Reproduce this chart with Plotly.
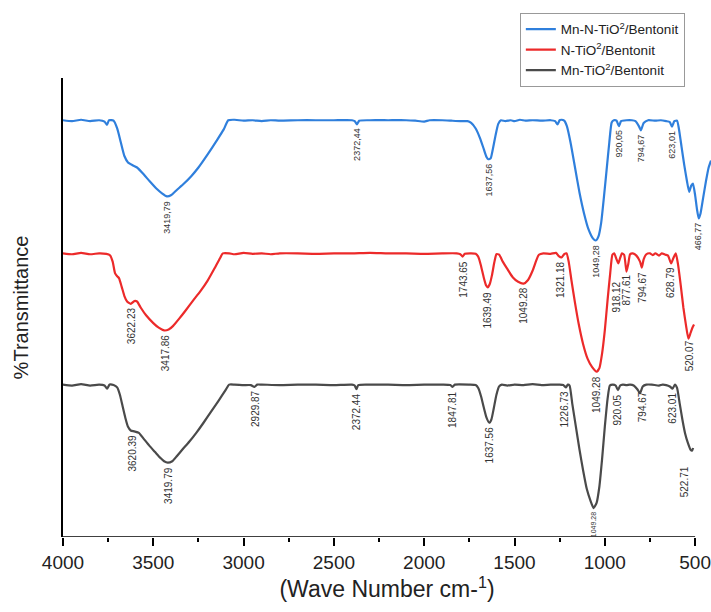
import numpy as np
import plotly.graph_objects as go

# ---------------- data ----------------
series_names = ["Mn-N-TiO<sup>2</sup>/Bentonit", "N-TiO<sup>2</sup>/Bentonit", "Mn-TiO<sup>2</sup>/Bentonit"]

blue_wn = [4000, 3950, 3900, 3850, 3800, 3770, 3757, 3745, 3720, 3700, 3680, 3660, 3640, 3615, 3590, 3560,
           3520, 3480, 3450, 3425, 3400, 3370, 3330, 3290, 3250, 3200, 3150, 3110, 3085, 3050, 3000, 2950,
           2900, 2850, 2800, 2700, 2600, 2500, 2400, 2385, 2372, 2360, 2300, 2200, 2100, 2050, 2000, 1970,
           1900, 1850, 1800, 1760, 1740, 1715, 1690, 1670, 1655, 1645, 1632, 1620, 1605, 1590, 1575, 1550,
           1520, 1500, 1470, 1440, 1400, 1350, 1300, 1275, 1262, 1250, 1240, 1225, 1210, 1190, 1165, 1140,
           1115, 1090, 1065, 1050, 1035, 1020, 1005, 990, 975, 962, 950, 935, 922, 910, 880, 850, 830, 810,
           800, 785, 760, 720, 690, 660, 640, 628, 615, 600, 590, 575, 560, 545, 533, 522, 512, 500, 490,
           480, 470, 455, 440, 425, 412]
blue_t = [90.8, 90.6, 90.9, 90.6, 90.8, 90.5, 89.8, 90.8, 90.7, 89.0, 86.0, 83.0, 81.6, 81.0, 80.5, 79.3,
          77.5, 75.8, 74.8, 74.2, 74.5, 75.6, 77.0, 78.6, 80.5, 83.3, 86.3, 88.8, 90.8, 90.9, 90.7, 90.8,
          90.6, 90.8, 90.7, 90.8, 90.8, 90.8, 90.8, 90.6, 89.9, 90.7, 90.8, 90.8, 90.8, 90.7, 90.5, 90.8,
          90.8, 90.7, 90.6, 90.6, 90.2, 89.0, 86.8, 84.5, 82.8, 82.3, 82.5, 84.5, 87.5, 90.0, 90.8, 90.6,
          90.8, 90.6, 90.9, 90.7, 90.8, 90.7, 90.8, 90.6, 89.9, 90.8, 90.9, 90.7, 89.5, 86.0, 80.5, 75.0,
          70.5, 67.0, 65.0, 64.6, 65.5, 68.5, 74.0, 80.0, 86.0, 90.3, 90.8, 90.7, 89.5, 90.6, 90.8, 90.8, 90.6, 89.4,
          88.6, 90.2, 90.8, 90.7, 90.8, 90.6, 90.4, 89.4, 90.6, 90.7, 89.0, 85.0, 81.0, 77.5, 75.2, 76.5, 77.0, 74.5, 71.5,
          69.4, 70.5, 74.0, 77.5, 80.5, 82.0]

red_wn = [4000, 3950, 3900, 3850, 3800, 3760, 3740, 3725, 3712, 3700, 3690, 3675, 3660, 3645, 3625, 3605,
          3590, 3570, 3540, 3500, 3470, 3440, 3415, 3390, 3360, 3320, 3280, 3240, 3200, 3160, 3130, 3115,
          3080, 3050, 3000, 2950, 2900, 2850, 2800, 2700, 2600, 2500, 2400, 2300, 2200, 2100, 2000, 1900,
          1820, 1800, 1787, 1775, 1740, 1715, 1700, 1685, 1670, 1657, 1648, 1638, 1625, 1612, 1600, 1585,
          1565, 1540, 1510, 1480, 1450, 1425, 1400, 1380, 1365, 1340, 1300, 1270, 1255, 1240, 1225, 1212,
          1200, 1185, 1165, 1145, 1120, 1095, 1070, 1045, 1030, 1015, 1000, 985, 970, 958, 948, 935, 925,
          915, 905, 893, 880, 870, 860, 845, 825, 805, 795, 785, 770, 750, 735, 720, 700, 685, 665, 650,
          633, 620, 607, 595, 580, 565, 550, 537, 525, 515, 506]
red_t = [61.8, 61.6, 61.9, 61.6, 61.8, 61.7, 61.4, 60.0, 57.5, 56.8, 56.4, 54.5, 52.5, 51.3, 50.8, 51.4,
         51.3, 50.0, 48.3, 46.6, 45.6, 45.0, 45.2, 46.0, 47.4, 49.4, 51.5, 53.5, 55.8, 58.6, 60.8, 61.8,
         61.8, 61.6, 61.9, 61.7, 61.8, 61.6, 61.8, 61.8, 61.7, 61.8, 61.8, 61.9, 61.8, 61.8, 61.7, 61.8,
         61.8, 61.6, 61.1, 61.7, 61.8, 61.7, 61.0, 59.0, 56.5, 54.8, 54.4, 55.0, 57.0, 59.8, 61.6, 61.5,
         60.0, 58.4, 56.6, 55.6, 55.2, 56.0, 58.0, 60.2, 61.5, 61.8, 61.7, 61.9, 61.2, 60.9, 61.6, 61.8,
         60.0, 56.0, 51.0, 46.5, 42.0, 38.8, 37.0, 36.0, 36.8, 40.0, 45.0, 51.5, 57.5, 61.5, 61.8, 60.5, 59.6,
         60.8, 61.8, 61.5, 57.8, 59.5, 61.6, 61.8, 61.3, 60.0, 58.7, 60.5, 61.6, 61.8, 61.4, 61.8, 61.3, 61.8, 61.5, 61.3,
         59.6, 60.8, 61.8, 59.5, 55.0, 50.0, 46.0, 43.2, 44.5, 45.6, 46.3]

black_wn = [4000, 3950, 3900, 3850, 3800, 3770, 3756, 3742, 3720, 3700, 3685, 3670, 3655, 3640, 3625, 3605,
            3580, 3555, 3520, 3490, 3460, 3440, 3420, 3395, 3370, 3340, 3300, 3260, 3220, 3180, 3140, 3100,
            3080, 3050, 3000, 2960, 2940, 2925, 2900, 2800, 2700, 2600, 2500, 2400, 2385, 2375, 2365, 2300,
            2200, 2100, 2000, 1900, 1855, 1843, 1830, 1750, 1715, 1700, 1685, 1670, 1655, 1640, 1628, 1615,
            1600, 1585, 1570, 1540, 1500, 1450, 1400, 1350, 1300, 1250, 1230, 1215, 1205, 1195, 1180, 1160,
            1140, 1120, 1100, 1080, 1062, 1045, 1030, 1015, 1000, 985, 972, 955, 940, 927, 915, 900, 880, 860,
            840, 820, 805, 790, 770, 740, 700, 680, 660, 640, 625, 612, 600, 585, 570, 555, 540, 525, 517, 511]
black_t = [33.2, 33.0, 33.3, 33.0, 33.2, 33.0, 32.3, 33.2, 33.1, 32.6, 31.0, 28.5, 26.0, 24.0, 23.2, 23.0,
           22.7, 21.5, 19.8, 18.5, 17.2, 16.5, 16.2, 16.5, 17.6, 19.0, 20.8, 22.8, 25.0, 27.3, 29.6, 32.0,
           33.2, 33.2, 33.1, 33.1, 32.7, 33.2, 33.2, 33.1, 33.2, 33.2, 33.1, 33.2, 33.0, 32.2, 33.1, 33.2,
           33.2, 33.1, 33.2, 33.2, 33.1, 32.7, 33.2, 33.2, 33.1, 32.4, 30.6, 28.2, 26.0, 24.9, 25.6, 28.0,
           31.0, 32.8, 33.2, 33.0, 33.2, 33.1, 33.3, 33.1, 33.2, 33.2, 33.1, 32.6, 33.2, 33.0, 29.0, 24.0,
           19.0, 14.5, 10.5, 8.0, 6.3, 7.5, 11.0, 17.0, 24.0, 30.0, 33.0, 33.2, 33.0, 32.0, 33.0, 33.2, 33.1, 33.2,
           33.0, 32.2, 31.3, 32.8, 33.2, 33.2, 33.0, 33.2, 33.1, 32.8, 32.3, 33.2, 32.5, 29.0, 25.5, 22.5, 20.5, 19.0, 18.8, 19.4]

# peak labels: where they sit on the wavenumber axis, and their text
blue_lbl_wn = [3425, 2372, 1642, 1050, 920, 800, 628, 480]
blue_lbl_txt = ["3419,79", "2372,44", "1637,56", "1049,28", "920,05", "794,67", "623,01", "466,77"]

red_lbl_wn = [3623, 3432, 1787, 1648, 1447, 1249, 1045, 938, 878, 795, 633, 533]
red_lbl_txt = ["3622.23", "3417.86", "1743.65", "1639.49", "1049.28", "1321.18", "1049.28",
               "918.12", "877.61", "794.67", "628.79", "520.07"]

black_lbl_wn = [3617, 3420, 2935, 2375, 1843, 1640, 1222, 1062, 927, 792, 624, 517]
black_lbl_txt = ["3620.39", "3419.79", "2929.87", "2372.44", "1847.81", "1637.56", "1226.73", "1049.28",
                 "920.05", "794.67", "623.01", "522.71"]

x_ticks = [4000, 3500, 3000, 2500, 2000, 1500, 1000, 500]

# ---------------- figure ----------------
BLUE = "#2f7fdc"
RED = "#ec2a2a"
GREY = "#4a4a4a"
FONT = "Arial, Liberation Sans, sans-serif"

fig = go.Figure()
for name, xs, ys, col in [(series_names[0], blue_wn, blue_t, BLUE),
                          (series_names[1], red_wn, red_t, RED),
                          (series_names[2], black_wn, black_t, GREY)]:
    fig.add_trace(go.Scatter(x=xs, y=ys, mode="lines", name=name,
                             line=dict(color=col, width=2.2, shape="spline", smoothing=0.5)))


def add_labels(xs, ys, lwn, ltxt, size, shifts=None):
    shifts = shifts or {}
    order = np.argsort(xs)
    xa = np.asarray(xs, dtype=float)[order]
    ya = np.asarray(ys, dtype=float)[order]
    for i, (w, t) in enumerate(zip(lwn, ltxt)):
        yv = float(np.interp(w, xa, ya))
        dx, dy, fs = shifts.get(i, (0, 0, size))
        fig.add_annotation(x=w, y=yv, text=t, textangle=-90, showarrow=False,
                           xanchor="center", yanchor="top", xshift=dx, yshift=-2 + dy,
                           font=dict(family=FONT, size=fs, color="#333333"))


add_labels(blue_wn, blue_t, blue_lbl_wn, blue_lbl_txt, 9)
add_labels(red_wn, red_t, red_lbl_wn, red_lbl_txt, 10, {7: (0, -20, 10)})
add_labels(black_wn, black_t, black_lbl_wn, black_lbl_txt, 10,
           {7: (0, 0, 7), 11: (-8, -12, 10)})

# bottom axis line (ends at 500 like the original)
fig.add_shape(type="line", xref="x", yref="y", x0=4000, x1=500, y0=0, y1=0,
              line=dict(color="black", width=1.5))

fig.update_layout(
    width=711, height=612,
    margin=dict(l=63, r=0, t=78, b=75),
    paper_bgcolor="white", plot_bgcolor="white",
    font=dict(family=FONT, color="#222222"),
    legend=dict(x=0.705, y=1.142, xanchor="left", yanchor="top",
                bgcolor="white", bordercolor="#999999", borderwidth=1,
                font=dict(size=13.5, family=FONT, color="#222222"),
                itemwidth=30, tracegroupgap=0),
    showlegend=True,
)
fig.update_xaxes(range=[4000, 412], tickmode="array", tickvals=x_ticks,
                 ticks="outside", ticklen=8, tickwidth=1.5, tickcolor="black",
                 tickfont=dict(size=19, family=FONT, color="#222222"),
                 minor=dict(ticks="outside", tickvals=[3750, 3250, 2750, 2250, 1750, 1250, 750],
                            ticklen=4, tickwidth=1.5, tickcolor="black"),
                 showline=False, showgrid=False, zeroline=False,
                 title=dict(text="(Wave Number cm-<sup>1</sup>)",
                            font=dict(size=23, family=FONT, color="#222222"), standoff=8))
fig.update_yaxes(range=[0, 100], showticklabels=False, ticks="", showgrid=False, zeroline=False,
                 showline=True, linecolor="black", linewidth=1.5,
                 title=dict(text="%Transmittance", font=dict(size=20, family=FONT, color="#222222"),
                            standoff=27))

fig.write_html("out.html")
